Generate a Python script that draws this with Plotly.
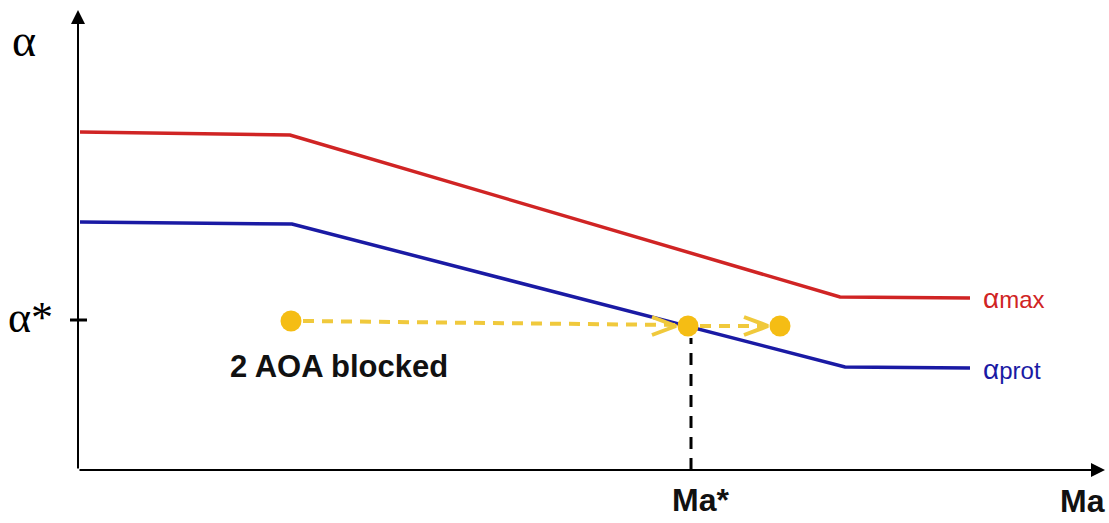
import plotly.graph_objects as go

# ---- data (x: Mach-like units, y: angle-of-attack units) ----
red_x = [2, 212, 762, 892]
red_y = [338, 335, 173, 172]
blue_x = [2, 214, 767, 892]
blue_y = [248, 246, 103, 102]
alpha_star = 150
ma_star = 611
pts_x = [213, 610, 702]
pts_y = [149, 144, 144]
x_axis_end = 1027
y_axis_end = 460

YEL = "#f5bd14"
YEL_L = "#f0c93c"
RED = "#d02424"
BLUE = "#1a1aa4"

fig = go.Figure()

# curves
fig.add_trace(go.Scatter(x=red_x, y=red_y, mode="lines",
                         line=dict(color=RED, width=3.5), hoverinfo="skip"))
fig.add_trace(go.Scatter(x=blue_x, y=blue_y, mode="lines",
                         line=dict(color=BLUE, width=3.5), hoverinfo="skip"))

# vertical dashed line at Ma*
fig.add_trace(go.Scatter(x=[ma_star + 2, ma_star + 2], y=[0, pts_y[1] - 12], mode="lines",
                         line=dict(color="black", width=3, dash="12px,9px"), hoverinfo="skip"))

# yellow dashed path
fig.add_trace(go.Scatter(x=[pts_x[0] + 12, pts_x[1] - 12], y=[pts_y[0], pts_y[1] + 1], mode="lines",
                         line=dict(color=YEL_L, width=4, dash="11px,8px"), hoverinfo="skip"))
fig.add_trace(go.Scatter(x=[pts_x[1] + 12, pts_x[2] - 12], y=[pts_y[1], pts_y[2]], mode="lines",
                         line=dict(color=YEL_L, width=4, dash="11px,8px"), hoverinfo="skip"))
# open chevron heads
for i in (1, 2):
    tx = pts_x[i] - 12
    ty = pts_y[i]
    fig.add_trace(go.Scatter(x=[tx - 24, tx, tx - 24], y=[ty + 9, ty, ty - 9], mode="lines",
                             line=dict(color=YEL_L, width=4), hoverinfo="skip"))

# points
fig.add_trace(go.Scatter(x=pts_x, y=pts_y, mode="markers",
                         marker=dict(color=YEL, size=21, line=dict(width=0)), hoverinfo="skip"))

# alpha* tick
fig.add_shape(type="line", x0=-8, x1=9, y0=alpha_star, y1=alpha_star,
              line=dict(color="black", width=3))

annotations = [
    # axes with arrowheads
    dict(x=0, y=y_axis_end, ax=0, ay=0, xref="x", yref="y", axref="x", ayref="y",
         showarrow=True, arrowhead=2, arrowsize=1.4, arrowwidth=2, arrowcolor="black", text=""),
    dict(x=x_axis_end, y=0, ax=0, ay=0, xref="x", yref="y", axref="x", ayref="y",
         showarrow=True, arrowhead=2, arrowsize=1.4, arrowwidth=2, arrowcolor="black", text=""),
    # labels
    dict(x=-54, y=430, text="α", showarrow=False, xanchor="center", yanchor="middle",
         font=dict(family="Liberation Serif", size=46, color="black")),
    dict(x=-48, y=alpha_star + 3, text="α*", showarrow=False, xanchor="center", yanchor="middle",
         font=dict(family="Liberation Serif", size=44, color="black")),
    dict(x=261, y=104, text="<b>2 AOA blocked</b>", showarrow=False, xanchor="center", yanchor="middle",
         font=dict(family="Liberation Sans", size=31, color="#111")),
    dict(x=ma_star + 11, y=-30, text="<b>Ma*</b>", showarrow=False, xanchor="center", yanchor="middle",
         font=dict(family="Liberation Sans", size=32, color="#111")),
    dict(x=1029, y=-31, text="<b>Ma</b>", showarrow=False, xanchor="right", yanchor="middle",
         font=dict(family="Liberation Sans", size=32, color="#111")),
    dict(x=903, y=172, text="<span style='font-size:28px'>α</span>max", showarrow=False,
         xanchor="left", yanchor="middle", font=dict(family="Liberation Sans", size=24, color=RED)),
    dict(x=903, y=101, text="<span style='font-size:28px'>α</span>prot", showarrow=False,
         xanchor="left", yanchor="middle", font=dict(family="Liberation Sans", size=24, color=BLUE)),
]

fig.update_layout(
    width=1109, height=523,
    margin=dict(l=0, r=0, t=0, b=0),
    paper_bgcolor="white", plot_bgcolor="white",
    showlegend=False,
    annotations=annotations,
    xaxis=dict(range=[-78, 1031], visible=False, fixedrange=True),
    yaxis=dict(range=[-53, 470], visible=False, fixedrange=True),
)

fig.write_html("out.html", config={"displayModeBar": False},
               post_script="document.body.style.margin='0';document.body.style.overflow='hidden';")
